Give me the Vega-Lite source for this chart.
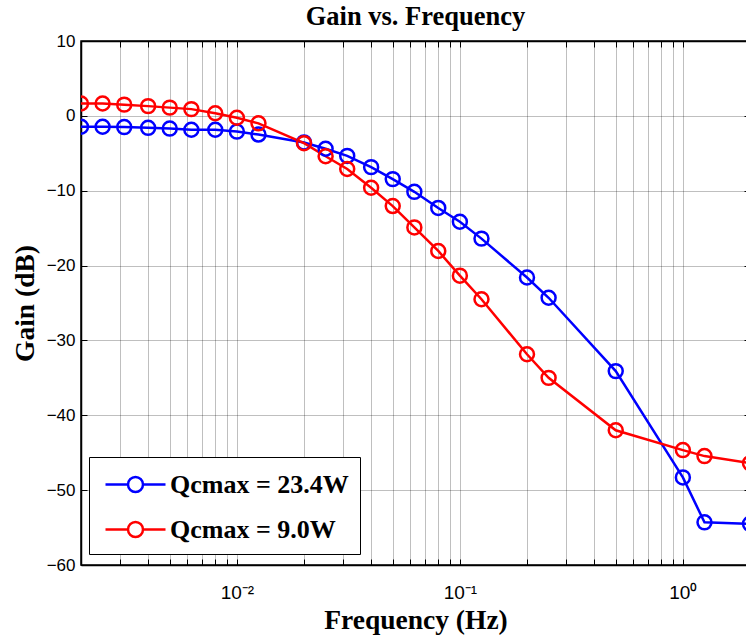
{
  "$schema": "https://vega.github.io/schema/vega-lite/v6.json",
  "autosize": {"type": "none"},
  "width": 669,
  "height": 524,
  "padding": {"left": 81, "top": 41, "right": -4, "bottom": 73},
  "background": "white",
  "title": {
    "text": "Gain vs. Frequency",
    "font": "Liberation Serif",
    "fontSize": 26.5,
    "fontWeight": "bold",
    "color": "black",
    "anchor": "middle",
    "frame": "group",
    "baseline": "alphabetic",
    "offset": -19
  },
  "data": {
    "values": [
      {"f": 0.002, "gain": -1.45, "series": "Qcmax = 23.4W"},
      {"f": 0.0025, "gain": -1.45, "series": "Qcmax = 23.4W"},
      {"f": 0.003125, "gain": -1.5, "series": "Qcmax = 23.4W"},
      {"f": 0.004, "gain": -1.6, "series": "Qcmax = 23.4W"},
      {"f": 0.005, "gain": -1.7, "series": "Qcmax = 23.4W"},
      {"f": 0.00625, "gain": -1.85, "series": "Qcmax = 23.4W"},
      {"f": 0.008, "gain": -1.85, "series": "Qcmax = 23.4W"},
      {"f": 0.01, "gain": -2.1, "series": "Qcmax = 23.4W"},
      {"f": 0.0125, "gain": -2.5, "series": "Qcmax = 23.4W"},
      {"f": 0.02, "gain": -3.55, "series": "Qcmax = 23.4W"},
      {"f": 0.025, "gain": -4.4, "series": "Qcmax = 23.4W"},
      {"f": 0.03125, "gain": -5.35, "series": "Qcmax = 23.4W"},
      {"f": 0.04, "gain": -6.85, "series": "Qcmax = 23.4W"},
      {"f": 0.05, "gain": -8.45, "series": "Qcmax = 23.4W"},
      {"f": 0.0625, "gain": -10.15, "series": "Qcmax = 23.4W"},
      {"f": 0.08, "gain": -12.3, "series": "Qcmax = 23.4W"},
      {"f": 0.1, "gain": -14.15, "series": "Qcmax = 23.4W"},
      {"f": 0.125, "gain": -16.4, "series": "Qcmax = 23.4W"},
      {"f": 0.2, "gain": -21.6, "series": "Qcmax = 23.4W"},
      {"f": 0.25, "gain": -24.3, "series": "Qcmax = 23.4W"},
      {"f": 0.5, "gain": -34.1, "series": "Qcmax = 23.4W"},
      {"f": 1.0, "gain": -48.3, "series": "Qcmax = 23.4W"},
      {"f": 1.25, "gain": -54.3, "series": "Qcmax = 23.4W"},
      {"f": 2.0, "gain": -54.5, "series": "Qcmax = 23.4W"},
      {"f": 0.002, "gain": 1.65, "series": "Qcmax = 9.0W"},
      {"f": 0.0025, "gain": 1.65, "series": "Qcmax = 9.0W"},
      {"f": 0.003125, "gain": 1.5, "series": "Qcmax = 9.0W"},
      {"f": 0.004, "gain": 1.3, "series": "Qcmax = 9.0W"},
      {"f": 0.005, "gain": 1.1, "series": "Qcmax = 9.0W"},
      {"f": 0.00625, "gain": 0.9, "series": "Qcmax = 9.0W"},
      {"f": 0.008, "gain": 0.35, "series": "Qcmax = 9.0W"},
      {"f": 0.01, "gain": -0.25, "series": "Qcmax = 9.0W"},
      {"f": 0.0125, "gain": -1.0, "series": "Qcmax = 9.0W"},
      {"f": 0.02, "gain": -3.65, "series": "Qcmax = 9.0W"},
      {"f": 0.025, "gain": -5.4, "series": "Qcmax = 9.0W"},
      {"f": 0.03125, "gain": -7.1, "series": "Qcmax = 9.0W"},
      {"f": 0.04, "gain": -9.6, "series": "Qcmax = 9.0W"},
      {"f": 0.05, "gain": -12.05, "series": "Qcmax = 9.0W"},
      {"f": 0.0625, "gain": -14.9, "series": "Qcmax = 9.0W"},
      {"f": 0.08, "gain": -18.05, "series": "Qcmax = 9.0W"},
      {"f": 0.1, "gain": -21.35, "series": "Qcmax = 9.0W"},
      {"f": 0.125, "gain": -24.5, "series": "Qcmax = 9.0W"},
      {"f": 0.2, "gain": -31.85, "series": "Qcmax = 9.0W"},
      {"f": 0.25, "gain": -35.0, "series": "Qcmax = 9.0W"},
      {"f": 0.5, "gain": -42.0, "series": "Qcmax = 9.0W"},
      {"f": 1.0, "gain": -44.65, "series": "Qcmax = 9.0W"},
      {"f": 1.25, "gain": -45.45, "series": "Qcmax = 9.0W"},
      {"f": 2.0, "gain": -46.4, "series": "Qcmax = 9.0W"}
    ]
  },
  "config": {
    "view": {"stroke": "black", "strokeWidth": 1.5},
    "axis": {
      "domainColor": "black",
      "domainWidth": 1.5,
      "tickColor": "black",
      "tickWidth": 1,
      "labelFont": "Liberation Sans",
      "labelFontSize": 17,
      "labelColor": "black",
      "titleFont": "Liberation Serif",
      "titleFontSize": 27.5,
      "titleFontWeight": "bold",
      "titleColor": "black",
      "gridColor": "#000000",
      "gridDash": [1, 1],
      "gridWidth": 1,
      "gridOpacity": 0.5
    }
  },
  "resolve": {"axis": {"x": "independent", "y": "independent"}},
  "layer": [
    {
      "mark": {"type": "line", "strokeWidth": 2.5, "clip": true},
      "encoding": {
        "x": {
          "field": "f",
          "type": "quantitative",
          "scale": {"type": "log", "domain": [0.002, 2], "nice": false},
          "axis": {
            "orient": "bottom",
            "values": [0.002, 0.003, 0.004, 0.005, 0.006, 0.007, 0.008, 0.009, 0.01, 0.02, 0.03, 0.04, 0.05, 0.06, 0.07, 0.08, 0.09, 0.1, 0.2, 0.3, 0.4, 0.5, 0.6, 0.7, 0.8, 0.9, 1, 2],
            "labelExpr": "datum.value == 0.01 ? '10⁻²' : datum.value == 0.1 ? '10⁻¹' : datum.value == 1 ? '10⁰' : ''",
            "labelOverlap": false,
            "labelFlush": false,
            "labelFontSize": 19,
            "tickSize": -6,
            "labelPadding": 24,
            "grid": true,
            "title": "Frequency (Hz)",
            "titleY": 63,
            "titleBaseline": "alphabetic"
          }
        },
        "y": {
          "field": "gain",
          "type": "quantitative",
          "scale": {"domain": [-60, 10], "nice": false},
          "axis": {
            "orient": "left",
            "values": [-60, -50, -40, -30, -20, -10, 0, 10],
            "tickSize": -6,
            "labelPadding": 12,
            "grid": true,
            "title": "Gain (dB)",
            "titleAngle": -90,
            "titleX": -48,
            "titleBaseline": "alphabetic"
          }
        },
        "color": {
          "field": "series",
          "type": "nominal",
          "scale": {"domain": ["Qcmax = 23.4W", "Qcmax = 9.0W"], "range": ["#0000ff", "#ff0000"]},
          "legend": {
            "orient": "none",
            "legendX": 8,
            "legendY": 416,
            "direction": "vertical",
            "title": null,
            "symbolType": "M-2,0H-0.5M0.5,0H2M0.5,0A0.5,0.5 0 1 1 -0.5,0A0.5,0.5 0 1 1 0.5,0",
            "symbolSize": 900,
            "symbolOffset": 19,
            "symbolStrokeWidth": 2.5,
            "symbolFillColor": "transparent",
            "labelFont": "Liberation Serif",
            "labelFontWeight": "bold",
            "labelFontSize": 26,
            "labelColor": "black",
            "labelLimit": 400,
            "labelOffset": 18,
            "strokeColor": "black",
            "fillColor": "white",
            "padding": 11,
            "rowPadding": 15
          }
        }
      }
    },
    {
      "mark": {"type": "point", "filled": false, "strokeWidth": 2.5, "size": 195, "opacity": 1, "clip": true},
      "encoding": {
        "x": {
          "field": "f",
          "type": "quantitative",
          "scale": {"type": "log", "domain": [0.002, 2], "nice": false},
          "axis": {
            "orient": "top",
            "values": [0.002, 0.003, 0.004, 0.005, 0.006, 0.007, 0.008, 0.009, 0.01, 0.02, 0.03, 0.04, 0.05, 0.06, 0.07, 0.08, 0.09, 0.1, 0.2, 0.3, 0.4, 0.5, 0.6, 0.7, 0.8, 0.9, 1, 2],
            "labels": false,
            "tickSize": -6,
            "grid": false,
            "title": null
          }
        },
        "y": {
          "field": "gain",
          "type": "quantitative",
          "scale": {"domain": [-60, 10], "nice": false},
          "axis": {
            "orient": "right",
            "values": [-60, -50, -40, -30, -20, -10, 0, 10],
            "labels": false,
            "tickSize": -6,
            "grid": false,
            "title": null
          }
        },
        "color": {
          "field": "series",
          "type": "nominal",
          "scale": {"domain": ["Qcmax = 23.4W", "Qcmax = 9.0W"], "range": ["#0000ff", "#ff0000"]}
        }
      }
    }
  ]
}
